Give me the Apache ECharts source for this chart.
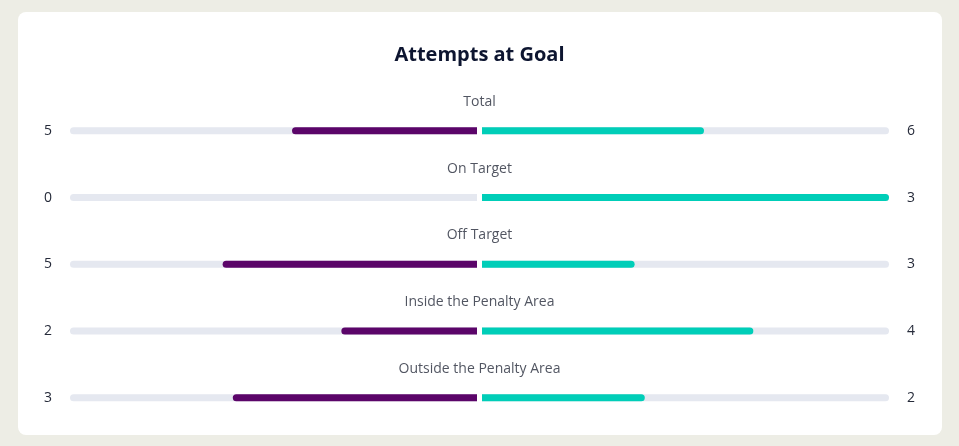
<!DOCTYPE html>
<html>
<head>
<meta charset="utf-8">
<script src="https://cdn.jsdelivr.net/npm/echarts@6/dist/echarts.min.js"></script>
<style>
html,body{margin:0;padding:0;background:#edede5;}
#card{position:absolute;left:18px;top:12px;width:924px;height:423px;background:#fff;border-radius:8px;}
#chart{position:absolute;left:0;top:0;width:959px;height:446px;}
</style>
</head>
<body>
<div id="card"></div>
<div id="chart"></div>
<script>
const titleText = 'Attempts at Goal';
const categories = ['Total', 'On Target', 'Off Target', 'Inside the Penalty Area', 'Outside the Penalty Area'];
const homeValues = [5, 0, 5, 2, 3];
const awayValues = [6, 3, 3, 4, 2];

const homeShare = homeValues.map((v, i) => { const t = v + awayValues[i]; return t ? v / t : 0; });
const awayShare = awayValues.map((v, i) => { const t = homeValues[i] + v; return t ? v / t : 0; });

const PURPLE = '#5b0569';
const TEAL = '#00ceb8';
const TRACK = '#e5e8f0';
const TEXT = '#262b3a';
const FONT = 'Open Sans';
const gridTop = 97.4, gridBottom = 14.8;

const chart = echarts.init(document.getElementById('chart'));
chart.setOption({
  animation: false,
  title: {
    text: titleText, left: 'center', top: 40,
    textStyle: { fontFamily: FONT, fontSize: 20, fontWeight: 'bold', color: '#0d1530' }
  },
  grid: [
    { left: 70, width: 407, top: gridTop, bottom: gridBottom },
    { left: 482, width: 407, top: gridTop, bottom: gridBottom },
    { left: 70, right: 70, top: gridTop, bottom: gridBottom }
  ],
  xAxis: [
    { gridIndex: 0, type: 'value', min: 0, max: 1, inverse: true, show: false },
    { gridIndex: 1, type: 'value', min: 0, max: 1, show: false },
    { gridIndex: 2, type: 'value', min: -1, max: 1, show: false }
  ],
  yAxis: [
    { gridIndex: 0, type: 'category', data: categories, inverse: true, position: 'left',
      axisLine: { show: false }, axisTick: { show: false }, splitLine: { show: false },
      axisLabel: { margin: 18, fontFamily: FONT, fontSize: 14, fontWeight: 500, color: TEXT,
        formatter: (v, i) => String(homeValues[i]) } },
    { gridIndex: 1, type: 'category', data: categories, inverse: true, position: 'right',
      axisLine: { show: false }, axisTick: { show: false }, splitLine: { show: false },
      axisLabel: { margin: 18, fontFamily: FONT, fontSize: 14, fontWeight: 500, color: TEXT,
        formatter: (v, i) => String(awayValues[i]) } },
    { gridIndex: 2, type: 'category', data: categories, inverse: true, show: false }
  ],
  series: [
    { type: 'bar', xAxisIndex: 0, yAxisIndex: 0, barWidth: 7, barGap: '-100%', silent: true,
      data: categories.map(() => 1), itemStyle: { color: TRACK, borderRadius: [4, 0, 0, 4] } },
    { type: 'bar', xAxisIndex: 0, yAxisIndex: 0, barWidth: 7, barGap: '-100%',
      data: homeShare, itemStyle: { color: PURPLE, borderRadius: [4, 0, 0, 4] } },
    { type: 'bar', xAxisIndex: 1, yAxisIndex: 1, barWidth: 7, barGap: '-100%', silent: true,
      data: categories.map(() => 1), itemStyle: { color: TRACK, borderRadius: [0, 4, 4, 0] } },
    { type: 'bar', xAxisIndex: 1, yAxisIndex: 1, barWidth: 7, barGap: '-100%',
      data: awayShare, itemStyle: { color: TEAL, borderRadius: [0, 4, 4, 0] } },
    { type: 'scatter', xAxisIndex: 2, yAxisIndex: 2, symbolSize: 1, silent: true,
      itemStyle: { color: 'rgba(0,0,0,0)' },
      data: categories.map(c => [0, c]),
      label: { show: true, position: 'inside', offset: [0, -29], formatter: p => p.value[1],
        fontFamily: FONT, fontSize: 14, fontWeight: 500, color: TEXT } }
  ]
});
</script>
</body>
</html>
